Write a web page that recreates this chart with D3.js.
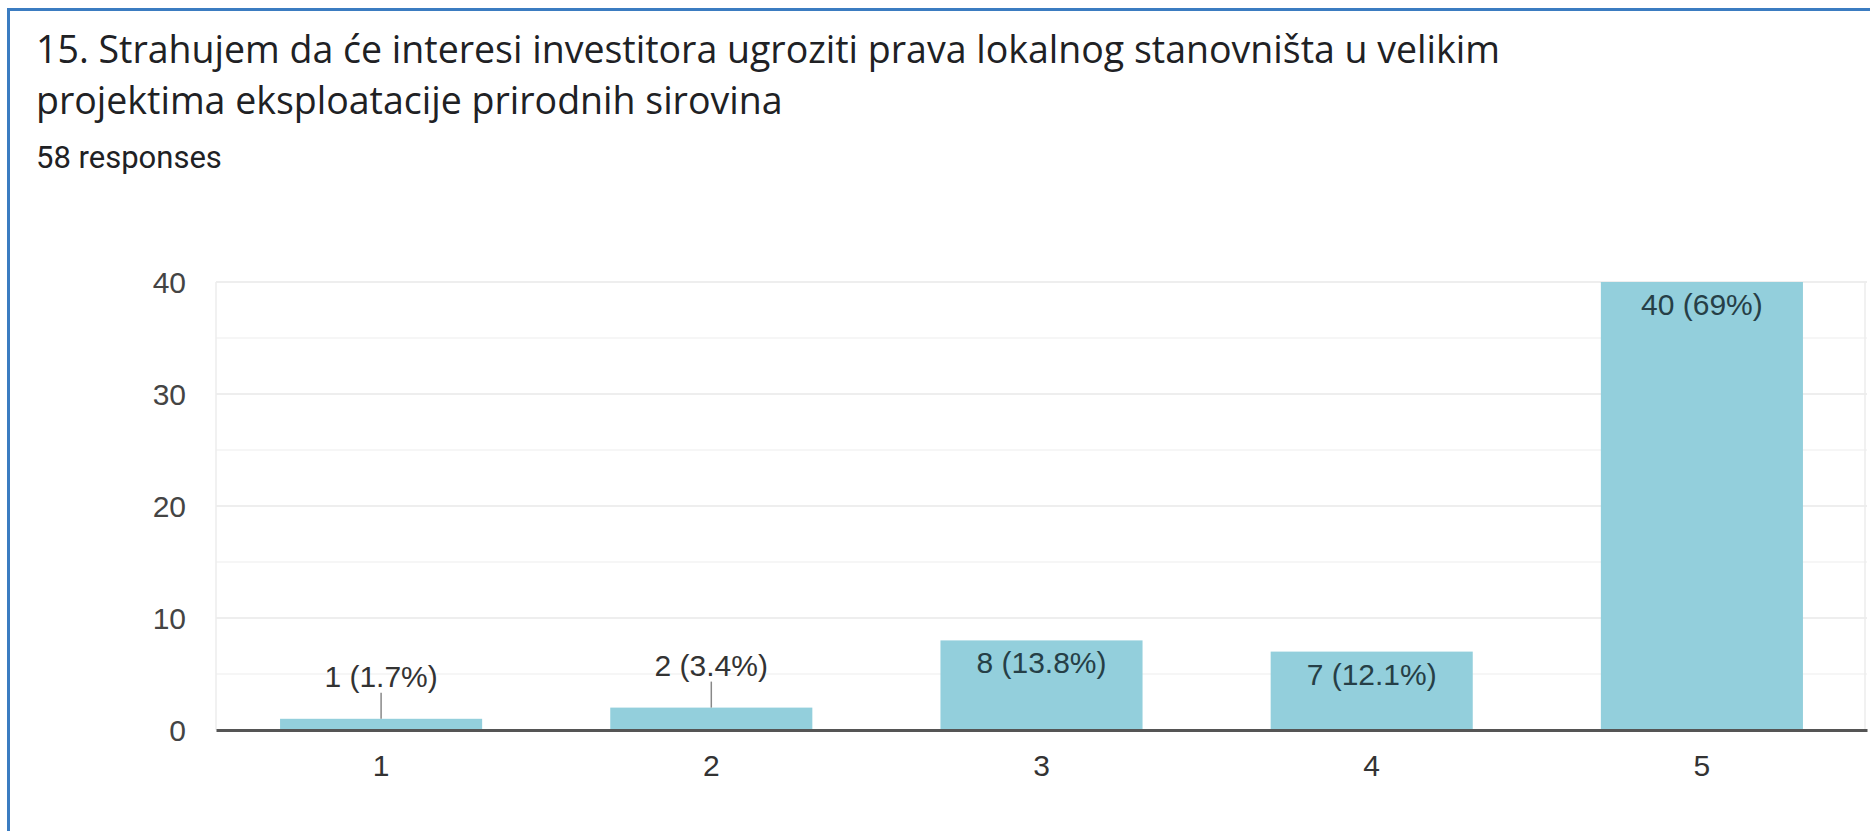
<!DOCTYPE html>
<html lang="hr">
  <head>
  <meta charset="utf-8">
  <title>15. Strahujem</title>
    <style>
      body { margin: 0; background: #fff; }
      .title { font-family: 'Open Sans', sans-serif; font-size: 37.5px; fill: #202124; }
      .sub { font-family: Roboto, sans-serif; font-size: 31px; fill: #202124; }
      .axis text { font-family: 'Liberation Sans', Arial, sans-serif; font-size: 30px; }
      .barlabel { font-family: 'Liberation Sans', Arial, sans-serif; font-size: 30px; }
    </style>
  </head>
  <body>
<div id="chart"></div>
    <script src="https://d3js.org/d3.v7.min.js"></script>
    <script>
    // data
    var categories = ["1", "2", "3", "4", "5"];
    var counts = [1, 2, 8, 7, 40];
    var percents = ["1.7%", "3.4%", "13.8%", "12.1%", "69%"];
    var yTicks = [0, 10, 20, 30, 40];
    var yMinor = [5, 15, 25, 35];
    var titleLines = ["15. Strahujem da će interesi investitora ugroziti prava lokalnog stanovništa u velikim",
                      "projektima eksploatacije prirodnih sirovina"];
    var responses = "58 responses";

    var width = 1870, height = 831;
    var plotLeft = 216, plotRight = 1867, plotTop = 282, plotBottom = 730;

    var svg = d3.select("#chart").append("svg")
        .attr("width", width)
        .attr("height", height);

    // blue frame
    svg.append("rect").attr("x", 7).attr("y", 8).attr("width", 3).attr("height", height - 8).attr("fill", "#3b7cc1");
    svg.append("rect").attr("x", 7).attr("y", 8).attr("width", width - 7).attr("height", 3).attr("fill", "#3b7cc1");

    svg.selectAll("text.title")
        .data(titleLines)
        .enter().append("text")
          .attr("class", "title")
          .attr("x", 36)
          .attr("y", function(d, i) { return 63 + i * 51; })
          .text(function(d) { return d; });

    svg.append("text").attr("class", "sub").attr("x", 36).attr("y", 168).text(responses);

    var x = d3.scaleBand()
        .domain(categories)
        .range([plotLeft, plotRight])
        .paddingInner(0.388)
        .paddingOuter(0.194);

    var y = d3.scaleLinear()
        .domain([0, 40])
        .range([plotBottom, plotTop]);

    // grid
    svg.append("g").selectAll("line")
        .data(yMinor)
        .enter().append("line")
          .attr("x1", plotLeft).attr("x2", plotRight)
          .attr("y1", function(d) { return y(d); })
          .attr("y2", function(d) { return y(d); })
          .attr("stroke", "#f3f3f3")
          .attr("stroke-width", 1.5);

    svg.append("g").selectAll("line")
        .data(yTicks.slice(1))
        .enter().append("line")
          .attr("x1", plotLeft).attr("x2", plotRight)
          .attr("y1", function(d) { return y(d); })
          .attr("y2", function(d) { return y(d); })
          .attr("stroke", "#e8e8e8")
          .attr("stroke-width", 1.5);

    svg.append("line").attr("x1", plotLeft).attr("x2", plotLeft).attr("y1", plotTop).attr("y2", plotBottom)
        .attr("stroke", "#ececec").attr("stroke-width", 1.5);
    svg.append("line").attr("x1", plotRight - 2).attr("x2", plotRight - 2).attr("y1", plotTop).attr("y2", plotBottom)
        .attr("stroke", "#ececec").attr("stroke-width", 1.5);

    // y axis labels
    var yAxis = svg.append("g")
        .attr("class", "axis")
        .attr("transform", "translate(" + (plotLeft - 30) + ",0)")
        .call(d3.axisLeft(y).tickValues(yTicks).tickSize(0).tickPadding(0));
    yAxis.select(".domain").remove();
    yAxis.selectAll("text").attr("fill", "#444").attr("dy", "0.35em");

    // bars
    svg.append("g").selectAll("rect")
        .data(counts)
        .enter().append("rect")
          .attr("x", function(d, i) { return x(categories[i]); })
          .attr("y", function(d) { return y(d); })
          .attr("width", x.bandwidth())
          .attr("height", function(d) { return plotBottom - y(d); })
          .attr("fill", "#93cfdc");

    // x axis
    var xAxis = svg.append("g")
        .attr("class", "axis")
        .attr("transform", "translate(0," + plotBottom + ")")
        .call(d3.axisBottom(x).tickSize(0).tickPadding(25));
    xAxis.select(".domain").attr("stroke", "#555").attr("stroke-width", 3);
    xAxis.selectAll("text").attr("fill", "#333").attr("dy", "0.71em");

    // value labels, inside tall bars, above short ones with a leader line
    var inside = function(d) { return plotBottom - y(d) > 40; };
    var cx = function(d, i) { return x(categories[i]) + x.bandwidth() / 2; };

    svg.append("g").selectAll("line")
        .data(counts)
        .enter().append("line")
          .attr("x1", cx).attr("x2", cx)
          .attr("y1", function(d) { return y(d) - 26; })
          .attr("y2", function(d) { return y(d); })
          .attr("stroke", "#888")
          .attr("stroke-width", 1.5)
          .attr("display", function(d) { return inside(d) ? "none" : null; });

    svg.append("g").selectAll("text")
        .data(counts)
        .enter().append("text")
          .attr("class", "barlabel")
          .attr("text-anchor", "middle")
          .attr("x", cx)
          .attr("y", function(d) { return inside(d) ? y(d) + 33 : y(d) - 32; })
          .attr("fill", function(d) { return inside(d) ? "#263f47" : "#333"; })
          .text(function(d, i) { return d + " (" + percents[i] + ")"; });
    </script>
  </body>
</html>
